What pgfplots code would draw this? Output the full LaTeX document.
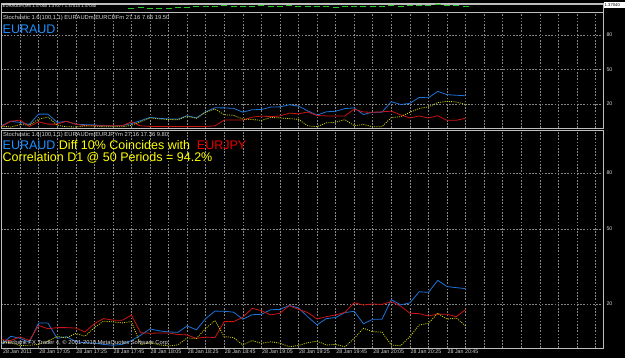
\documentclass[border=0pt]{standalone}
\usepackage{fontspec}
\setmainfont{Liberation Sans}
\usepackage{pgfplots}
\usepackage{pgfplotstable}
\pgfplotsset{compat=1.18}

\definecolor{bluel}{RGB}{30,115,215}
\definecolor{bluet}{RGB}{30,144,255}
\definecolor{redl}{RGB}{205,20,20}
\definecolor{redt}{RGB}{235,0,0}
\definecolor{yell}{RGB}{215,215,0}
\definecolor{yelt}{RGB}{255,255,0}
\definecolor{gridc}{RGB}{135,135,135}
\definecolor{framec}{RGB}{190,190,190}
\definecolor{textc}{RGB}{215,215,215}
\definecolor{barg}{RGB}{40,200,40}

\pgfplotstableread{
i b r1 d1 r2 d2
0 1.2 0.5 0.7 3.4 2.2
1 5 5 0 3 2
2 4 6 2 4.7 0.7
3 2.2 0.5 1.7 3 0.8
4 11.2 4.5 6.7 10 1.2
5 11.2 2.5 8.7 8.5 2.7
6 4 2.5 1.5 9 5
7 4.8 5 0.2 9 4.2
8 2.5 2.5 0 8.8 6.3
9 2 1 1 7 5
10 1.8 1 0.8 10.8 9
11 1.2 1 0.2 13.2 12
12 0.8 1 0.2 12.5 11.7
13 1.2 1 0.2 12.4 11.2
14 3 4.5 1.5 14.8 11.8
15 5.5 1 4.5 6.6 1.1
16 8.4 0.5 7.9 6.4 2
17 7.5 0.5 7 6.5 1
18 7 0.5 6.5 6.5 0.5
19 6.8 0.5 6.3 5.8 1
20 9.8 0.5 9.3 5.6 4.2
21 8 0.5 7.5 4 4
22 13.2 0.5 12.7 4.6 8.6
23 16.7 1 15.7 4.4 12.3
24 16.6 6 10.6 11.8 4.8
25 16.2 6 10.2 11.8 4.4
26 12.9 6 6.9 13.8 0.9
27 15 8.5 6.5 18 3
28 15.2 9.5 5.7 16.9 1.7
29 17.3 9 8.3 14.9 2.4
30 17.5 9.6 7.9 15.7 1.8
31 19.3 12 7.3 19.2 0.1
32 18.2 11.5 6.7 17.5 0.7
33 14 13 1 16 2
34 10.3 10 0.3 13 2.7
35 13.2 9.6 3.6 14.1 0.9
36 13.7 9.6 4.1 14.9 1.2
37 16 9.6 6.4 16.1 0.1
38 16.6 15.5 1.1 20.6 4
39 10.8 13 2.2 19.5 8.7
40 12.9 12.8 0.1 20 7.1
41 12.9 13.2 0.3 19.8 6.9
42 22 13.8 8.2 21.1 0.9
43 19.6 10.6 9 19 0.6
44 20.5 7.8 12.7 15.7 4.8
45 25.7 9.6 16.1 15.5 10.2
46 25.4 7.8 17.6 14.4 11
47 31 9.8 21.2 15.3 15.7
48 28.1 5.8 22.3 15.2 12.9
49 27.6 5.8 21.8 14.1 13.5
50 27.16 7.66 19.50 17.36 9.80
}\stoch

\pgfplotstableread{
i p
14 1.3701
15 1.3702
16 1.3700
17 1.3701
18 1.3700
19 1.3702
20 1.3703
21 1.3704
22 1.3705
23 1.3704
24 1.3706
25 1.3705
26 1.3705
27 1.3704
28 1.3706
29 1.3705
30 1.3705
31 1.3706
32 1.3705
33 1.3704
34 1.3705
35 1.3704
36 1.3703
37 1.3704
38 1.3705
39 1.3704
40 1.3705
41 1.3705
42 1.3706
43 1.3705
44 1.3706
45 1.3706
46 1.3707
47 1.3708
48 1.3707
49 1.3707
50 1.3704
}\price

\newcommand{\ticktxt}{\fontsize{5.3}{6}\selectfont}
\newcommand{\smalltxt}{\fontsize{5.8}{7}\selectfont}
\newcommand{\bigtxt}{\fontsize{12.5}{14}\selectfont}

\pgfplotsset{
  mtpanel/.style={
    scale only axis, width=602pt, anchor=south west,
    xmin=-0.054, xmax=64.81,
    xtick={2,4,...,64}, xticklabels={},
    xmajorgrids, ymajorgrids,
    major grid style={gridc, dash pattern=on 1.6pt off 1.6pt, line width=0.5pt},
    axis line style={framec, line width=0.7pt},
    major tick length=0pt, tick style={draw=none},
    yticklabel pos=right,
    ticklabel style={font=\ticktxt, text=textc},
    /pgf/number format/assume math mode=true,
  }
}

\begin{document}
\begin{tikzpicture}[x=1pt,y=1pt]
\fill[black] (0,0) rectangle (625,358);
\draw[gray!55, line width=0.4pt] (1,353.3) -- (603,353.3);

% price panel
\begin{axis}[mtpanel, at={(1pt,346pt)}, height=9pt,
  ymin=1.3694, ymax=1.3712, ytick=\empty, ymajorgrids=false, xmajorgrids=false]
\addplot[barg, only marks, mark=-, mark size=3pt, line width=1pt] table[x=i,y=p]{\price};
\end{axis}
\fill[white] (603.5,349.5) rectangle (625,355.5);
\node[anchor=west, inner sep=0.5pt, font=\fontsize{4.2}{5}\selectfont, text=black] at (604,352.5) {1.37040};
\node[anchor=base west, inner sep=0pt, font=\fontsize{4.2}{5}\selectfont, text=white] at (2.5,350) {EURAUDm,M5 1.37060 1.37077 1.37014 1.37040};

% panel 1
\begin{axis}[mtpanel, at={(1pt,230pt)}, height=116pt,
  ymin=-0.87, ymax=100, ytick={20,50,80}, yticklabels={20,50,80}]
\addplot[bluel, line width=0.8pt] table[x=i,y=b]{\stoch};
\addplot[redl, line width=0.8pt] table[x=i,y=r1]{\stoch};
\addplot[yell, line width=0.8pt, dash pattern=on 1pt off 1.2pt] table[x=i,y=d1]{\stoch};
\node[anchor=north west, font=\ticktxt, text=textc, inner sep=1.5pt] at (rel axis cs:1,1) {100};
\node[anchor=south west, font=\ticktxt, text=textc, inner sep=1.5pt] at (rel axis cs:1,0) {0};
\end{axis}
\node[anchor=base west, inner sep=0pt, font=\smalltxt, text=textc] at (3,338) {Stochastic 1.6(100,1,1) EURAUDm|EURCHFm 27.16 7.66 19.50};
\node[anchor=base west, inner sep=0pt, font=\bigtxt, text=bluet] at (2.5,324.7) {EURAUD};

% panel 2
\begin{axis}[mtpanel, at={(1pt,10pt)}, height=218pt,
  ymin=-0.47, ymax=100.93, ytick={20,54.9,80.9}, yticklabels={20,50,80},
  xticklabels={{},28 Jan 17:05,{},28 Jan 17:25,{},28 Jan 17:45,{},28 Jan 18:05,{},28 Jan 18:25,{},28 Jan 18:45,{},28 Jan 19:05,{},28 Jan 19:25,{},28 Jan 19:45,{},28 Jan 20:05,{},28 Jan 20:25,{},28 Jan 20:45,{},{},{},{},{},{},{},{}},
  x tick label style={anchor=north west, inner sep=0pt, yshift=-2pt, xshift=0.5pt},
  extra x ticks={0.1}, extra x tick labels={28 Jan 2011},
  extra x tick style={grid=none}]
\addplot[bluel, line width=0.8pt] table[x=i,y=b]{\stoch};
\addplot[redl, line width=0.8pt] table[x=i,y=r2]{\stoch};
\addplot[yell, line width=0.8pt, dash pattern=on 1pt off 1.2pt] table[x=i,y=d2]{\stoch};
\node[anchor=north west, font=\ticktxt, text=textc, inner sep=1.5pt] at (rel axis cs:1,1) {100};
\node[anchor=south west, font=\ticktxt, text=textc, inner sep=1.5pt] at (rel axis cs:1,0) {0};
\end{axis}
\node[anchor=base west, inner sep=0pt, font=\smalltxt, text=textc] at (3,221.5) {Stochastic 1.6(100,1,1) EURAUDm|EURJPYm 27.16 17.36 9.80};
\node[anchor=base west, inner sep=0pt, font=\bigtxt] at (2.5,208) {\textcolor{bluet}{EURAUD}\textcolor{yelt}{\ Diff 10\%\ Coincides\ with\ \ }\textcolor{redt}{EURJPY}};
\node[anchor=base west, inner sep=0pt, font=\bigtxt, text=yelt] at (2.5,196.3) {Correlation D1 @ 50 Periods = 94.2\%};
\node[anchor=base west, inner sep=0pt, font=\smalltxt, text=textc] at (2.5,13.5) {Interbank FX Trader 4, © 2001-2010 MetaQuotes Software Corp.};
\end{tikzpicture}
\end{document}
